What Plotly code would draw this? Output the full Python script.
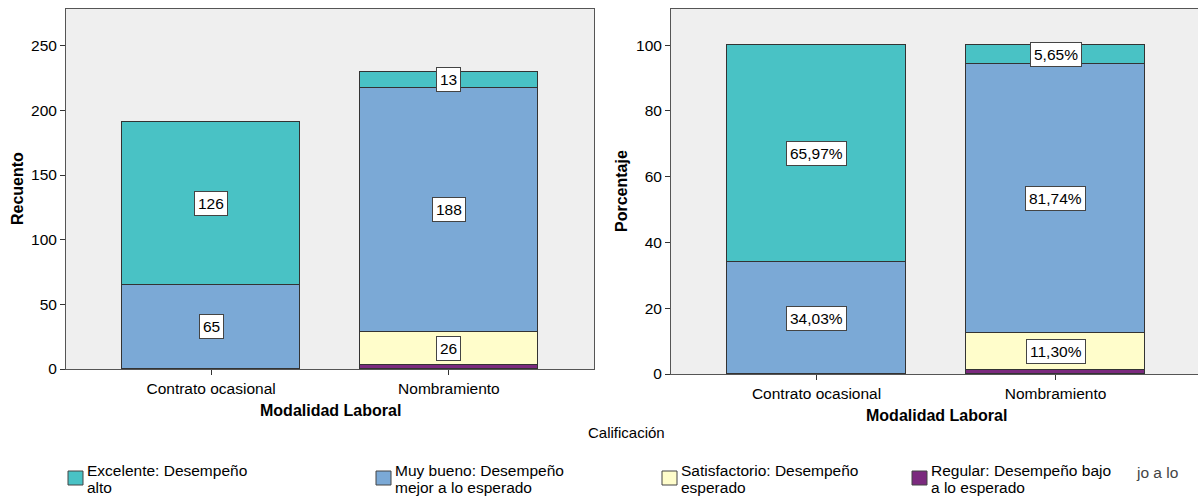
import plotly.graph_objects as go

# ---------------- data ----------------
categories = ["Contrato ocasional", "Nombramiento"]
series_names = [
    "Excelente: Desempeño alto",
    "Muy bueno: Desempeño mejor a lo esperado",
    "Satisfactorio: Desempeño esperado",
    "Regular: Desempeño bajo a lo esperado",
]
legend_lines = [
    ["Excelente: Desempeño", "alto"],
    ["Muy bueno: Desempeño", "mejor a lo esperado"],
    ["Satisfactorio: Desempeño", "esperado"],
    ["Regular: Desempeño bajo", "a lo esperado"],
]
counts_excelente = [126, 13]
counts_muy_bueno = [65, 188]
counts_satisfactorio = [0, 26]
counts_regular = [0, 3]

pct_excelente = [65.97, 5.65]
pct_muy_bueno = [34.03, 81.74]
pct_satisfactorio = [0.0, 11.30]
pct_regular = [0.0, 1.30]

y_ticks_count = [0, 50, 100, 150, 200, 250]
y_ticks_pct = [0, 20, 40, 60, 80, 100]

colors = ["#49C2C5", "#7BA9D6", "#FFFDCB", "#7B2A7E"]

counts = [counts_excelente, counts_muy_bueno, counts_satisfactorio, counts_regular]
pcts = [pct_excelente, pct_muy_bueno, pct_satisfactorio, pct_regular]

W, H = 1198, 498
FONT = "Liberation Sans, Arial, sans-serif"


def px(x):
    return x / W


def py(y):
    return 1 - y / H


fig = go.Figure()

# stacked from bottom: Regular, Satisfactorio, Muy bueno, Excelente
for (xa, ya, data) in [("x", "y", counts), ("x2", "y2", pcts)]:
    for i in [3, 2, 1, 0]:
        vals = [v if v > 0 else None for v in data[i]]
        fig.add_trace(go.Bar(
            x=categories, y=vals, name=series_names[i],
            marker=dict(color=colors[i], line=dict(color="#333333", width=1)),
            width=0.75, xaxis=xa, yaxis=ya, showlegend=False,
            hoverinfo="skip",
        ))

# value labels (boxed)
annotations = []


def add_labels(data, xref, yref, fmt, min_val):
    for c, cat in enumerate(categories):
        base = 0
        for i in [3, 2, 1, 0]:
            v = data[i][c]
            if v > min_val:
                annotations.append(dict(
                    x=cat, y=base + v / 2, xref=xref, yref=yref,
                    text=fmt(v), showarrow=False,
                    font=dict(family=FONT, size=15.5, color="#000000"),
                    bgcolor="#FFFFFF", bordercolor="#444444", borderwidth=1,
                    borderpad=3, xanchor="center", yanchor="middle",
                ))
            base += v


add_labels(counts, "x", "y", lambda v: f"{v:d}", 5)
add_labels(pcts, "x2", "y2", lambda v: f"{v:.2f}%".replace(".", ","), 2)

# axis titles
annotations += [
    dict(x=px(330), y=py(410), xref="paper", yref="paper", text="<b>Modalidad Laboral</b>",
         showarrow=False, font=dict(family=FONT, size=16, color="#000"), xanchor="center", yanchor="middle"),
    dict(x=px(936), y=py(415), xref="paper", yref="paper", text="<b>Modalidad Laboral</b>",
         showarrow=False, font=dict(family=FONT, size=16, color="#000"), xanchor="center", yanchor="middle"),
    dict(x=px(17), y=py(189), xref="paper", yref="paper", text="<b>Recuento</b>", textangle=-90,
         showarrow=False, font=dict(family=FONT, size=16, color="#000"), xanchor="center", yanchor="middle"),
    dict(x=px(621), y=py(191), xref="paper", yref="paper", text="<b>Porcentaje</b>", textangle=-90,
         showarrow=False, font=dict(family=FONT, size=16, color="#000"), xanchor="center", yanchor="middle"),
    dict(x=px(626), y=py(432), xref="paper", yref="paper", text="Calificación",
         showarrow=False, font=dict(family=FONT, size=15, color="#000"), xanchor="center", yanchor="middle"),
    dict(x=px(1134), y=py(472), xref="paper", yref="paper", text="jo a lo",
         showarrow=False, font=dict(family=FONT, size=15.5, color="#444"), xanchor="left", yanchor="middle"),
]

# custom legend
shapes = []
legend_x = [68, 376, 662, 912]
for i, lx in enumerate(legend_x):
    shapes.append(dict(type="rect", xref="paper", yref="paper",
                       x0=px(lx), x1=px(lx + 15), y0=py(485), y1=py(471),
                       fillcolor=colors[i], line=dict(color="#444444", width=1)))
    for j, ly in enumerate([470, 487]):
        annotations.append(dict(
            x=px(lx + 17), y=py(ly), xref="paper", yref="paper",
            text=legend_lines[i][j], showarrow=False,
            font=dict(family=FONT, size=15.5, color="#000"),
            xanchor="left", yanchor="middle",
        ))

axis_common = dict(showline=True, linecolor="#555555", linewidth=1, ticks="outside",
                   ticklen=5, tickcolor="#333333", showgrid=False, zeroline=False,
                   tickfont=dict(family=FONT, size=15.5, color="#000"), automargin=False)

fig.update_layout(
    width=W, height=H,
    margin=dict(l=0, r=0, t=0, b=0),
    paper_bgcolor="#FFFFFF",
    plot_bgcolor="#EFEFEF",
    barmode="stack",
    bargap=0,
    font=dict(family=FONT, color="#000"),
    xaxis=dict(domain=[px(66), px(594)], range=[-0.61, 1.61], anchor="y", mirror=True, **axis_common),
    yaxis=dict(domain=[py(369), py(9)], range=[0, 278.4], anchor="x", mirror=True,
               tickvals=y_ticks_count, **axis_common),
    xaxis2=dict(domain=[px(671), 1.0], range=[-0.609, 1.596], anchor="y2", mirror=True, **axis_common),
    yaxis2=dict(domain=[py(374), py(9)], range=[0, 111], anchor="x2", mirror=False,
                tickvals=y_ticks_pct, **axis_common),
    annotations=annotations,
    shapes=shapes,
)

fig.write_html("out.html", config={"displayModeBar": False},
               post_script="document.body.style.margin='0px';document.body.style.overflow='hidden';")
